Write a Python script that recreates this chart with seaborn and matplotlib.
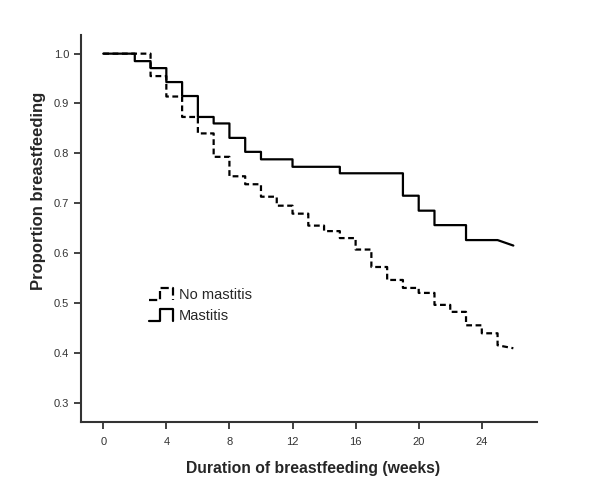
import numpy as np
import pandas as pd
import matplotlib
matplotlib.use("Agg")
import matplotlib.pyplot as plt
import seaborn as sns
from matplotlib.lines import Line2D
from matplotlib.legend_handler import HandlerBase

# ---- data ----
groups = ["No mastitis", "Mastitis"]

nm_weeks = [3, 4, 5, 6, 7, 8, 9, 10, 11, 12, 13, 14, 15, 16, 17, 18, 19, 20, 21, 22, 23, 24, 25]
nm_prop = [0.955, 0.914, 0.873, 0.840, 0.793, 0.754, 0.738, 0.713, 0.695, 0.679, 0.655,
           0.644, 0.630, 0.607, 0.572, 0.546, 0.530, 0.520, 0.496, 0.482, 0.455, 0.439, 0.415]
nm_tail = [25, 26]
nm_end = 0.409

m_weeks = [2, 3, 4, 5, 6, 7, 8, 9, 10, 12, 15, 19, 20, 21, 23]
m_prop = [0.985, 0.971, 0.943, 0.915, 0.873, 0.860, 0.831, 0.803, 0.788, 0.773, 0.760,
          0.715, 0.685, 0.656, 0.626]
m_tail = [25, 26]
m_end = 0.615

x_ticks = [0, 4, 8, 12, 16, 20, 24]
y_ticks = [0.3, 0.4, 0.5, 0.6, 0.7, 0.8, 0.9, 1.0]


def km_path(weeks, props, tail, end):
    xs, ys = [0.0], [1.0]
    prev = 1.0
    for t, s in zip(weeks, props):
        xs += [t, t]
        ys += [prev, s]
        prev = s
    if xs[-1] < tail[0]:
        xs.append(tail[0]); ys.append(prev)
    xs.append(tail[1]); ys.append(end)
    return xs, ys


rows = []
for g, (w, p, tl, e) in zip(groups, [(nm_weeks, nm_prop, nm_tail, nm_end),
                                     (m_weeks, m_prop, m_tail, m_end)]):
    xs, ys = km_path(w, p, tl, e)
    for i, (x, y) in enumerate(zip(xs, ys)):
        rows.append({"group": g, "order": i, "week": x, "prop": y})
df = pd.DataFrame(rows)

sns.set_style("ticks")
plt.rcParams["font.family"] = ["Liberation Sans", "DejaVu Sans"]

fig = plt.figure(figsize=(6.0, 5.03), dpi=100)
ax = fig.add_axes([0.135, 0.161, 0.76, 0.769])

dash_map = {"No mastitis": (2.6, 1.6), "Mastitis": ""}
sns.lineplot(data=df, x="week", y="prop", hue="group", style="group",
             units="group", estimator=None, sort=False,
             palette={"No mastitis": "black", "Mastitis": "black"},
             dashes=dash_map, linewidth=1.6, legend=False, ax=ax)

ax.set_xlim(-1.41, 27.5)
ax.set_ylim(0.261, 1.037)
ax.set_xticks(x_ticks)
ax.set_xticklabels([str(t) for t in x_ticks])
ax.set_yticks(y_ticks)
ax.set_yticklabels([f"{t:.1f}" for t in y_ticks])

for s in ["top", "right"]:
    ax.spines[s].set_visible(False)
for s in ["left", "bottom"]:
    ax.spines[s].set_color("#333333")
    ax.spines[s].set_linewidth(1.5)
ax.tick_params(axis="both", direction="out", length=5, width=1.3, color="#333333",
               labelsize=8, labelcolor="#333333")
ax.tick_params(axis="x", pad=6)
ax.tick_params(axis="y", pad=3.5)

ax.set_xlabel("Duration of breastfeeding (weeks)", fontsize=11.3, fontweight="bold")
ax.set_ylabel("Proportion breastfeeding", fontsize=12, fontweight="bold")
ax.xaxis.set_label_coords(0.508, -0.119)
ax.yaxis.set_label_coords(-0.094, 0.597)
ax.yaxis.label.set_va("center")
ax.xaxis.label.set_va("center")


class StepHandler(HandlerBase):
    def create_artists(self, legend, orig_handle, xdescent, ydescent, width, height,
                       fontsize, trans):
        x0, y0 = -xdescent, -ydescent
        xs = [x0, x0 + 0.47 * width, x0 + 0.47 * width, x0 + width, x0 + width]
        ys = [y0, y0, y0 + height, y0 + height, y0]
        ln = Line2D(xs, ys, color=orig_handle.get_color(),
                    linewidth=orig_handle.get_linewidth(),
                    linestyle=orig_handle.get_linestyle())
        ln.set_transform(trans)
        return [ln]


handles = [Line2D([], [], color="black", linewidth=1.6, linestyle=(0, (2.6, 1.6))),
           Line2D([], [], color="black", linewidth=1.6, linestyle="-")]
ax.legend(handles, groups, handler_map={Line2D: StepHandler()},
          loc="upper left", bbox_to_anchor=(149 / 600, 1 - 288 / 503),
          bbox_transform=fig.transFigure,
          frameon=False, fontsize=10.5, handlelength=1.65, handleheight=0.92,
          handletextpad=0.41, labelspacing=0.45, borderaxespad=0, borderpad=0)

fig.savefig("out.png", dpi=100)
